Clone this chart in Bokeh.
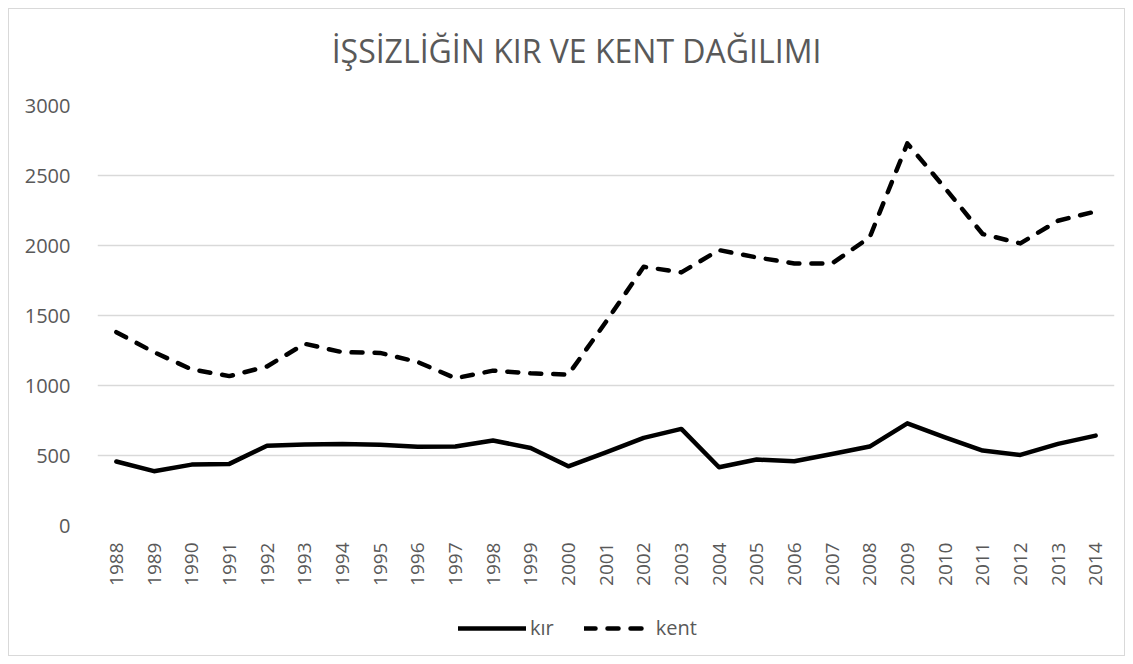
from bokeh.plotting import figure
from bokeh.models import FixedTicker, Legend, LegendItem, Label, Range1d, FactorRange
from bokeh.layouts import column
from bokeh.embed import file_html
from bokeh.resources import INLINE
import math

years = [str(y) for y in range(1988, 2015)]
kir = [457, 388, 435, 440, 569, 578, 583, 576, 562, 564, 607, 554, 423, 522,
       626, 690, 416, 471, 459, 511, 564, 730, 630, 535, 504, 583, 642]
kent = [1381, 1238, 1115, 1067, 1136, 1298, 1238, 1233, 1168, 1052, 1106, 1087, 1078, 1455,
        1848, 1808, 1967, 1915, 1872, 1872, 2058, 2729, 2410, 2082, 2015, 2177, 2243]
y_ticks = [0, 500, 1000, 1500, 2000, 2500, 3000]
title_text = "İŞSİZLİĞİN KIR VE KENT DAĞILIMI"
series_names = ["kır", "kent"]

FONT = "Open Sans"
GRAY = "#595959"
BORDER = "1px solid #d9d9d9"
DASH = "11 12"
W = 1117


def strip(height, sides, y0, y1):
    f = figure(width=W, height=height, x_range=Range1d(96, 1113), y_range=Range1d(y0, y1),
               output_backend="svg", toolbar_location=None,
               min_border_left=0, min_border_right=0, min_border_top=0, min_border_bottom=0)
    st = {"border-" + s: BORDER for s in sides}
    st["box-sizing"] = "border-box"
    f.styles = st
    f.axis.visible = False
    f.grid.visible = False
    f.outline_line_color = None
    f.border_fill_color = "white"
    f.background_fill_color = "white"
    return f


# title strip (page y 8..93)
t = strip(85, ["top", "left", "right"], 93, 8)
t.add_layout(Label(x=575, y=49, text=title_text, text_align="center", text_baseline="middle",
                   text_font=FONT, text_font_size="32px", text_color=GRAY))

# main chart (page y 93..608)
p = figure(width=W, height=515, x_range=FactorRange(*years), y_range=Range1d(0, 3000),
           output_backend="svg", toolbar_location=None,
           min_border_left=88, min_border_right=12, min_border_top=12, min_border_bottom=83)
p.styles = {"border-left": BORDER, "border-right": BORDER, "box-sizing": "border-box"}
p.outline_line_color = None
p.background_fill_color = "white"
p.border_fill_color = "white"

p.line(years, kir, line_color="black", line_width=4.5, line_join="round", line_cap="round")
p.line(years, kent, line_color="black", line_width=4.5, line_dash=DASH,
       line_join="round", line_cap="round")

p.yaxis.ticker = FixedTicker(ticks=y_ticks)
p.yaxis.axis_line_color = None
p.yaxis.major_tick_line_color = None
p.yaxis.minor_tick_line_color = None
p.yaxis.major_label_standoff = 21
p.yaxis.major_label_text_font = FONT
p.yaxis.major_label_text_font_size = "20px"
p.yaxis.major_label_text_color = GRAY

p.xaxis.axis_line_color = None
p.xaxis.major_tick_line_color = None
p.xaxis.minor_tick_line_color = None
p.xaxis.major_label_orientation = math.pi / 2
p.xaxis.major_label_standoff = 11
p.xaxis.major_label_text_font = FONT
p.xaxis.major_label_text_font_size = "19px"
p.xaxis.major_label_text_color = GRAY

p.xgrid.grid_line_color = None
p.ygrid.grid_line_color = "#d9d9d9"
p.ygrid.grid_line_width = 1.5

# legend strip (page y 608..656)
q = strip(48, ["left", "right", "bottom"], 0, 1)
r1 = q.line([2000, 2001], [5, 5], line_color="black", line_width=4.5, line_cap="round")
r2 = q.line([2000, 2001], [5, 5], line_color="black", line_width=4.5, line_dash=DASH,
            line_cap="round")
legend = Legend(items=[LegendItem(label=series_names[0], renderers=[r1]),
                       LegendItem(label=series_names[1], renderers=[r2])],
                orientation="horizontal", location=(361, 15),
                label_text_font=FONT, label_text_font_size="20px", label_text_color=GRAY,
                glyph_width=68, label_standoff=4, spacing=30,
                border_line_color=None, background_fill_alpha=0, margin=0, padding=0)
q.add_layout(legend, "center")

layout = column(t, p, q, spacing=0)
layout.styles = {"margin-left": "8px", "margin-top": "8px"}

open("out.html", "w").write(file_html(layout, INLINE))
